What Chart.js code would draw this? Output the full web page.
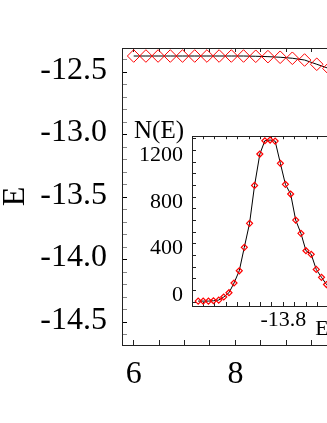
<!DOCTYPE html>
<html lang="en">
<head>
<meta charset="UTF-8">
<title>E and N(E)</title>
<script src="https://cdn.jsdelivr.net/npm/chart.js@4.4.0/dist/chart.umd.min.js"></script>
<style>
    html, body { margin: 0; padding: 0; width: 327px; height: 423px; overflow: hidden; background: #fff; }
    #main { position: absolute; left: 0; top: 0; }
    #inset { position: absolute; left: 110px; top: 110px; }
</style>
</head>
<body>
<canvas id="main" width="380" height="423"></canvas>
<canvas id="inset" width="224" height="240"></canvas>
<script>
    // main panel
    const mainX = [6.0, 6.24, 6.48, 6.72, 6.96, 7.2, 7.44, 7.68, 7.92, 8.16, 8.4, 8.64, 8.88, 9.12, 9.36, 9.6, 9.84];
    const mainE = [-12.370, -12.370, -12.370, -12.370, -12.370, -12.370, -12.370, -12.370, -12.370, -12.370,
        -12.372, -12.375, -12.380, -12.388, -12.402, -12.436, -12.470];
    const mainXLabels = [6, 8];
    const mainYLabels = [-12.5, -13.0, -13.5, -14.0, -14.5];

    // inset: N(E)
    const insetE = [-14.173, -14.151, -14.128, -14.106, -14.083, -14.061, -14.038, -14.016, -13.993, -13.971,
        -13.948, -13.926, -13.903, -13.881, -13.858, -13.836, -13.813, -13.791, -13.768, -13.746,
        -13.723, -13.701, -13.678, -13.656, -13.633, -13.611, -13.588];
    const insetN = [8, 8, 8, 11, 17, 43, 80, 163, 268, 469,
        675, 1000, 1269, 1383, 1389, 1380, 1189, 1009, 926, 703,
        589, 440, 409, 280, 212, 150, 100];
    const insetXLabels = [-13.8];
    const insetYLabels = [0, 400, 800, 1200];

    const serif = '"Liberation Serif", "Times New Roman", serif';
    const frame = '#222';
    const isLabel = (list, v) => list.some(l => Math.abs(l - v) < 1e-6);

    function axis(extra) {
        return Object.assign({
            type: 'linear',
            grid: { drawOnChartArea: false, drawTicks: true, tickLength: -5, tickColor: frame, tickWidth: 1 },
            border: { display: true, color: frame, width: 1 }
        }, extra);
    }

    new Chart(document.getElementById('main'), {
        type: 'scatter',
        data: {
            datasets: [{
                data: mainX.map((x, i) => ({ x: x, y: mainE[i] })),
                showLine: true,
                borderColor: '#000',
                borderWidth: 1,
                pointStyle: 'rectRot',
                pointRadius: 6.3,
                pointBorderColor: '#ff0000',
                pointBorderWidth: 1,
                pointBackgroundColor: 'rgba(0,0,0,0)'
            }]
        },
        options: {
            responsive: false,
            animation: false,
            devicePixelRatio: 1,
            layout: { padding: { top: 48, left: 0, right: 0, bottom: 0 } },
            plugins: { legend: { display: false }, tooltip: { enabled: false } },
            scales: {
                x: axis({
                    position: 'bottom', min: 5.77, max: 10.7,
                    ticks: {
                        stepSize: 0.5, includeBounds: false, autoSkip: false, maxRotation: 0,
                        padding: 15, color: '#000', font: { family: serif, size: 32 },
                        callback: v => isLabel(mainXLabels, v) ? String(v) : ''
                    },
                    afterFit: s => { s.height = 78; }
                }),
                xTop: axis({
                    position: 'top', min: 5.77, max: 10.7,
                    ticks: { display: false, stepSize: 0.5, includeBounds: false },
                    grid: { drawOnChartArea: false, drawTicks: true, tickLength: -4, tickColor: frame },
                    afterFit: s => { s.height = 0; }
                }),
                y: axis({
                    position: 'left', min: -14.68, max: -12.306,
                    ticks: {
                        stepSize: 0.1, includeBounds: false, autoSkip: false,
                        padding: 20, labelOffset: -2, color: '#000', font: { family: serif, size: 32 },
                        callback: v => isLabel(mainYLabels, v) ? v.toFixed(1) : ''
                    },
                    grid: {
                        drawOnChartArea: false, drawTicks: true, tickLength: -5,
                        tickColor: c => isLabel(mainYLabels, c.tick.value) ? '#000' : '#888'
                    },
                    title: { display: true, text: 'E', color: '#000', padding: 0, font: { family: serif, size: 32, lineHeight: 1 } },
                    afterFit: s => { s.width = 122; }
                })
            }
        }
    });

    const insetText = {
        id: 'insetText',
        afterDraw(chart) {
            const { ctx, chartArea } = chart;
            ctx.save();
            ctx.font = '25px ' + serif;
            ctx.fillStyle = '#000';
            ctx.textAlign = 'right';
            ctx.textBaseline = 'middle';
            ctx.fillText('N(E)', chartArea.left - 8, chartArea.top - 5);
            ctx.restore();
        }
    };

    new Chart(document.getElementById('inset'), {
        type: 'scatter',
        data: {
            datasets: [{
                data: insetE.map((e, i) => ({ x: e, y: insetN[i] })),
                showLine: true,
                borderColor: '#000',
                borderWidth: 1,
                pointStyle: 'rectRot',
                pointRadius: 3,
                pointBorderColor: '#ff0000',
                pointBorderWidth: 1.2,
                pointBackgroundColor: 'rgba(0,0,0,0)'
            }]
        },
        options: {
            responsive: false,
            animation: false,
            devicePixelRatio: 1,
            layout: { padding: { top: 26, left: 0, right: 0, bottom: 0 } },
            plugins: { legend: { display: false }, tooltip: { enabled: false } },
            scales: {
                x: axis({
                    position: 'bottom', min: -14.2, max: -13.601,
                    ticks: {
                        stepSize: 0.05, includeBounds: false, autoSkip: false, maxRotation: 0,
                        padding: 5, color: '#000', font: { family: serif, size: 22 },
                        callback: v => isLabel(insetXLabels, v) ? v.toFixed(1) : ''
                    },
                    grid: { drawOnChartArea: false, drawTicks: true, tickLength: -4, tickColor: frame },
                    title: { display: true, text: 'E', align: 'end', color: '#000', padding: { top: 0, bottom: 8 }, font: { family: serif, size: 22 } },
                    afterFit: s => { s.height = 44; }
                }),
                xTop: axis({
                    position: 'top', min: -14.2, max: -13.601,
                    ticks: { display: false, stepSize: 0.05, includeBounds: false },
                    grid: { drawOnChartArea: false, drawTicks: true, tickLength: -3, tickColor: frame },
                    afterFit: s => { s.height = 0; }
                }),
                y: axis({
                    position: 'left', min: -34, max: 1422,
                    ticks: {
                        stepSize: 100, includeBounds: false, autoSkip: false,
                        padding: 13, labelOffset: -7, color: '#000', font: { family: serif, size: 22 },
                        callback: v => isLabel(insetYLabels, v) ? String(v) : ''
                    },
                    grid: { drawOnChartArea: false, drawTicks: true, tickLength: -4, tickColor: frame },
                    afterFit: s => { s.width = 82; }
                })
            }
        },
        plugins: [insetText]
    });
</script>
</body>
</html>
